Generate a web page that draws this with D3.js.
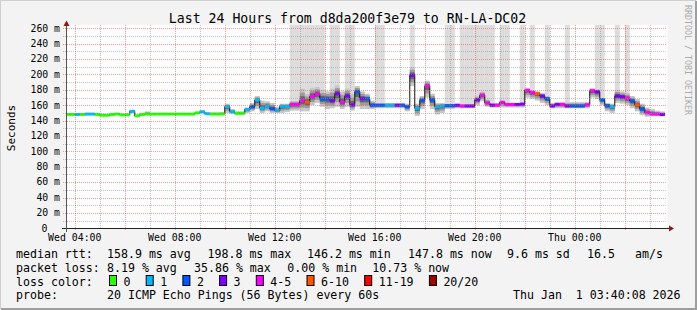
<!DOCTYPE html>
<head>
    <meta charset="utf-8">
    <title>Last 24 Hours from d8da200f3e79 to RN-LA-DC02</title>
    <style>
        body { margin: 0; background: #fff; }
        svg text { font-family: "DejaVu Sans Mono", monospace; white-space: pre; }
    </style>
</head>
<body>

<svg width="697" height="310"></svg>

<script src="https://cdn.jsdelivr.net/npm/d3@7/dist/d3.min.js"></script>

<script>
    // median rtt in ms, one value per 12 minute step starting Wed 03:36
    var median = [
        148, 148, 148, 148, 148.5, 148.5, 148, 147, 147, 148,
        148.5, 147.5, 147.5, 152, 146.2, 148, 148.5, 148.5, 148.5, 148.5,
        148.5, 148.5, 148.5, 148.5, 148.5, 148.5, 150, 151.5, 149, 148.5,
        148.5, 148.5, 158, 151.5, 149.5, 149.5, 154.5, 158, 166.8, 156.5,
        158.5, 155.5, 153, 158.5, 158.5, 161, 161, 166, 164, 171.5,
        174.5, 168, 168, 166, 175, 164, 172, 160.5, 177.5, 168.5,
        168.5, 160, 160, 160, 160, 160, 160, 160, 158, 198.8,
        156, 166.5, 185, 167, 158, 159, 159.5, 159.5, 160, 159,
        159, 159, 167, 173, 163, 160, 160, 164, 161, 161,
        161, 161.5, 179.5, 176.5, 175, 172, 168.5, 159, 161, 161,
        159, 159, 159, 159, 160.5, 179, 177.5, 167, 159.5, 158,
        172, 171, 169, 165.5, 160.5, 155, 150.5, 148.5, 148.5, 147.8
    ];

    // lost pings (of 20) per step
    var lost = [
        0, 0, 1, 0, 1, 1, 0, 0, 0, 0,
        0, 0, 0, 1, 0, 0, 0, 0, 0, 0,
        0, 0, 0, 0, 0, 0, 0, 1, 1, 0,
        0, 0, 1, 1, 0, 0, 1, 2, 1, 1,
        1, 2, 1, 1, 1, 4, 4, 4, 7, 4,
        4, 2, 2, 3, 3, 4, 3, 3, 2, 3,
        2, 2, 2, 2, 1, 1, 3, 2, 2, 3,
        1, 2, 4, 2, 1, 1, 2, 2, 3, 4,
        3, 3, 3, 4, 4, 3, 4, 4, 4, 4,
        3, 3, 4, 4, 7, 3, 2, 3, 3, 4,
        3, 2, 2, 2, 4, 4, 3, 2, 2, 1,
        3, 3, 4, 2, 7, 2, 4, 4, 4, 3
    ];

    // smoke: lowest and highest ping of each step (ms)
    var smokeLo = [
        147.5, 147.5, 147.5, 147.5, 148, 148, 147.5, 146.5, 146.5, 147.5,
        148, 147, 147, 150, 145.5, 147.5, 148, 148, 148, 148,
        148, 148, 148, 148, 148, 148, 149.5, 150, 148, 148,
        148, 148, 150, 149, 148, 148, 150, 152, 155, 150,
        152, 150, 150, 150, 151, 153, 153, 152, 152, 160,
        163, 158, 155, 156, 158, 155, 158, 153, 158, 155,
        155, 155, 156, 156, 156, 156, 156, 156, 152, 185,
        146, 155, 170, 155, 148, 150, 155, 155, 156, 156,
        156, 156, 160, 165, 158, 157, 157, 157, 157, 157,
        157, 157, 170, 168, 166, 163, 160, 156, 156, 156,
        156, 156, 156, 156, 156, 170, 168, 160, 152, 150,
        163, 162, 160, 156, 152, 147, 145, 146, 146, 146
    ];
    var smokeHi = [
        149, 149, 149.5, 149, 149.5, 149.5, 149, 148, 148, 149,
        149.5, 148.5, 148.5, 154, 147.5, 149, 152, 149.5, 149.5, 149.5,
        149.5, 149.5, 149.5, 149.5, 149.5, 149.5, 151, 153, 150, 150.5,
        150.5, 151, 162, 155, 152, 152, 157, 163, 172, 166,
        165, 163, 158, 162, 162, 166, 166, 182, 175, 183,
        184, 180, 178, 182, 186, 178, 182, 175, 185, 178,
        175, 166, 163, 163, 163, 163, 163, 163, 162, 210,
        162, 172, 192, 175, 163, 163, 162, 162, 162, 162,
        162, 162, 172, 178, 168, 163, 163, 163, 163, 163,
        163, 163, 182, 180, 178, 176, 172, 163, 164, 164,
        164, 164, 164, 164, 164, 182, 181, 170, 163, 162,
        180, 178, 176, 172, 168, 162, 157, 155, 153, 152
    ];

    // steps where the outer smoke runs off the top of the graph
    var offTop = [45, 46, 47, 48, 49, 50, 51, 53, 54, 56, 57, 62, 63, 69, 76, 77,
                  79, 80, 81, 82, 83, 84, 85, 87, 88, 91, 93, 96, 100, 106, 107, 110, 112];

    var yTicks = [0, 20, 40, 60, 80, 100, 120, 140, 160, 180, 200, 220, 240, 260];
    var xTickLabels = ["Wed 04:00", "Wed 08:00", "Wed 12:00", "Wed 16:00", "Wed 20:00", "Thu 00:00"];

    var lossLabels = ["0", "1", "2", "3", "4-5", "6-10", "11-19", "20/20"];
    var lossColors = ["#26ff00", "#00b8ff", "#0059ff", "#7e00ff", "#ff00ff", "#ff5500", "#ff0000", "#a10000"];

    var svg = d3.select("svg");

    var start = new Date(2025, 11, 31, 3, 40, 8),
        end = new Date(2026, 0, 1, 3, 40, 8),
        first = new Date(2025, 11, 31, 3, 36, 0),
        step = 12 * 60 * 1000;

    var x = d3.scaleTime().domain([start, end]).range([66.5, 666.5]);
    var y = d3.scaleLinear().domain([0, 260]).range([228.3, 28.3]);

    function t(i) { return new Date(first.getTime() + i * step); }
    function lossClass(n) {
        if (n <= 3) return n;
        if (n <= 5) return 4;
        if (n <= 10) return 5;
        if (n < 20) return 6;
        return 7;
    }

    // background + 3d frame
    svg.append("rect").attr("width", 697).attr("height", 310).attr("fill", "#f3f3f3");
    svg.append("path").attr("d", "M0,309V0H696").attr("fill", "none").attr("stroke", "#cfcfcf").attr("stroke-width", 2);
    svg.append("path").attr("d", "M1,309H696V1").attr("fill", "none").attr("stroke", "#9e9e9e").attr("stroke-width", 2);

    // canvas
    svg.append("rect").attr("x", 66.5).attr("y", 25).attr("width", 601).attr("height", 203.5).attr("fill", "#fff");

    svg.append("clipPath").attr("id", "clip")
        .append("rect").attr("x", 67).attr("y", 25).attr("width", 600).attr("height", 203.5);

    var plot = svg.append("g").attr("clip-path", "url(#clip)");
    var idx = d3.range(median.length);

    // smoke running off the top
    plot.selectAll("rect.top")
        .data(offTop)
        .enter().append("rect")
            .attr("class", "top")
            .attr("x", function(i) { return x(t(i)); })
            .attr("width", function(i) { return x(t(i + 1)) - x(t(i)); })
            .attr("y", 25)
            .attr("height", function(i) { return y(smokeHi[i]) - 25; })
            .attr("fill", "#dcdcdc");

    // smoke layers, light outside to dark near the median
    var layers = [[1, "#c6c6c6"], [0.65, "#9a9a9a"], [0.35, "#656565"]];
    layers.forEach(function(l) {
        plot.append("g").selectAll("rect")
            .data(idx)
            .enter().append("rect")
                .attr("x", function(i) { return x(t(i)); })
                .attr("width", function(i) { return x(t(i + 1)) - x(t(i)); })
                .attr("y", function(i) { return y(median[i] + (smokeHi[i] - median[i]) * l[0]); })
                .attr("height", function(i) {
                    return y(median[i] - (median[i] - smokeLo[i]) * l[0]) - y(median[i] + (smokeHi[i] - median[i]) * l[0]);
                })
                .attr("fill", l[1]);
    });

    // grid
    var grid = svg.append("g").attr("stroke-width", 1).attr("stroke-dasharray", "1,1");
    d3.range(0, 261, 10).forEach(function(v) {
        if (v === 0) return;
        grid.append("line")
            .attr("x1", 63).attr("x2", 667)
            .attr("y1", Math.round(y(v)) + 0.5).attr("y2", Math.round(y(v)) + 0.5)
            .attr("stroke", v % 20 === 0 ? "#de5050" : "#8f8f8f")
            .attr("stroke-opacity", 0.55);
    });
    x.ticks(d3.timeHour.every(1)).forEach(function(d) {
        var major = d.getHours() % 2 === 0;
        grid.append("line")
            .attr("x1", Math.round(x(d)) + 0.5).attr("x2", Math.round(x(d)) + 0.5)
            .attr("y1", 25).attr("y2", major ? 231 : 228)
            .attr("stroke", major ? "#de5050" : "#8f8f8f")
            .attr("stroke-opacity", 0.55);
    });

    // median line: thin black steps, thick loss-coloured segments
    var line = d3.line()
        .x(function(i) { return x(t(i)); })
        .y(function(i) { return y(median[Math.min(i, median.length - 1)]); })
        .curve(d3.curveStepAfter);

    plot.append("path")
        .datum(d3.range(median.length + 1))
        .attr("d", line)
        .attr("fill", "none")
        .attr("stroke", "#111")
        .attr("stroke-width", 1);

    plot.append("g").selectAll("rect")
        .data(idx)
        .enter().append("rect")
            .attr("x", function(i) { return x(t(i)); })
            .attr("width", function(i) { return x(t(i + 1)) - x(t(i)); })
            .attr("y", function(i) { return y(median[i]) - 1.5; })
            .attr("height", 3)
            .attr("fill", function(i) { return lossColors[lossClass(lost[i])]; });

    // axes
    svg.append("line").attr("x1", 62).attr("x2", 670).attr("y1", 228.5).attr("y2", 228.5).attr("stroke", "#222");
    svg.append("line").attr("x1", 66.5).attr("x2", 66.5).attr("y1", 232).attr("y2", 24).attr("stroke", "#555");
    svg.append("path").attr("d", "M669,225.5L674,228.5L669,231.5Z").attr("fill", "#8b1a1a");
    svg.append("path").attr("d", "M63.5,26L66.5,20.5L69.5,26Z").attr("fill", "#8b1a1a");

    // y labels
    svg.append("g").selectAll("text")
        .data(yTicks)
        .enter().append("text")
            .attr("x", function(d) { return d === 0 ? 47.5 : 60; })
            .attr("y", function(d) { return y(d) + 3.3; })
            .attr("text-anchor", "end")
            .attr("font-size", "9.8px")
            .text(function(d) { return d === 0 ? "0" : d + " m"; });

    // x labels
    svg.append("g").selectAll("text")
        .data(x.ticks(d3.timeHour.every(4)))
        .enter().append("text")
            .attr("x", function(d) { return x(d); })
            .attr("y", 240.7)
            .attr("text-anchor", "middle")
            .attr("font-size", "9.85px")
            .text(function(d, i) { return xTickLabels[i]; });

    // titles
    svg.append("text").attr("x", 347.5).attr("y", 23.3).attr("text-anchor", "middle")
        .attr("font-size", "13.2px").text("Last 24 Hours from d8da200f3e79 to RN-LA-DC02");
    svg.append("text").attr("transform", "translate(15,128) rotate(-90)").attr("text-anchor", "middle")
        .attr("font-size", "11px").text("Seconds");
    svg.append("text").attr("transform", "translate(685,60) rotate(90)").attr("text-anchor", "middle")
        .attr("font-size", "8.3px").attr("fill", "#aaa").text("RRDTOOL / TOBI OETIKER");

    // legend
    var leg = svg.append("g").attr("font-size", "11.6px");
    function put(tx, px, py) { leg.append("text").attr("x", px).attr("y", py).text(tx); }

    put("median rtt:", 16, 258);
    put("158.9 ms avg", 107, 258);
    put("198.8 ms max", 207.5, 258);
    put("146.2 ms min", 307, 258);
    put("147.8 ms now", 408, 258);
    put("9.6 ms sd", 507, 258);
    put("16.5", 587, 258);
    put("am/s", 635, 258);

    put("packet loss:", 16, 271.7);
    put("8.19 % avg", 107, 271.7);
    put("35.86 % max", 194, 271.7);
    put("0.00 % min", 287.3, 271.7);
    put("10.73 % now", 372.3, 271.7);

    put("loss color:", 16, 285.5);
    var bx = 109;
    lossLabels.forEach(function(lab, i) {
        leg.append("rect").attr("x", bx + 0.5).attr("y", 275.5).attr("width", 7).attr("height", 10)
            .attr("fill", lossColors[i]).attr("stroke", "#000");
        put(lab, bx + 14.5, 285.5);
        bx += 14.5 + lab.length * 7 + 15.2;
    });

    put("probe:", 16, 299);
    put("20 ICMP Echo Pings (56 Bytes) every 60s", 107, 299);
    put("Thu Jan  1 03:40:08 2026", 513, 299);
</script>

</body>
